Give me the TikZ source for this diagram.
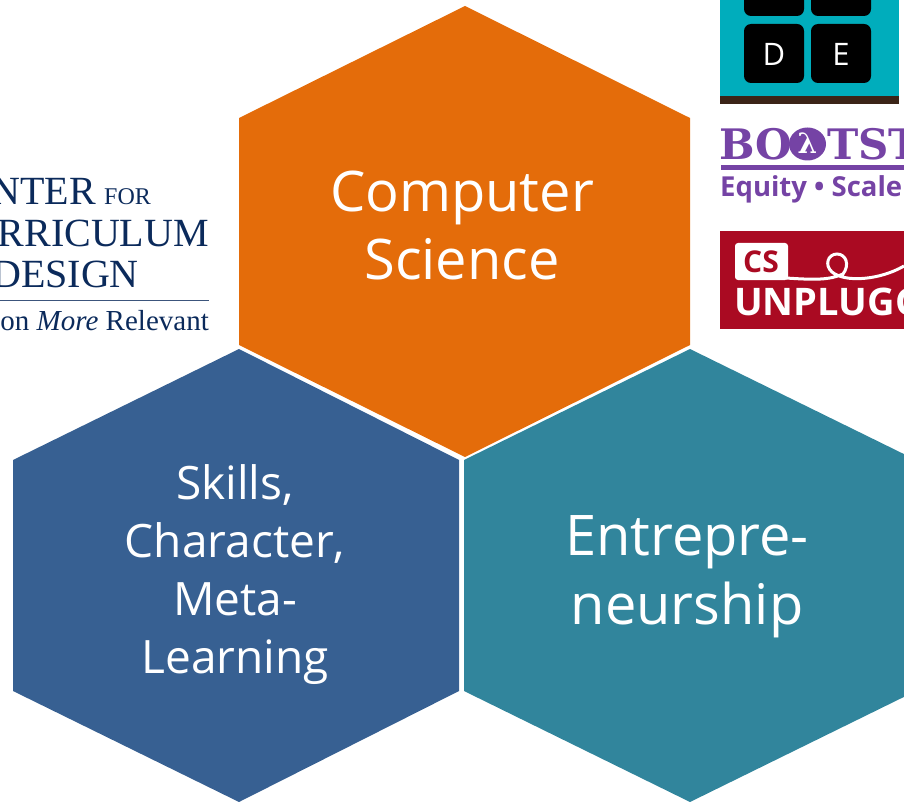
\documentclass[tikz,border=0pt]{standalone}
\usepackage{fontspec}
\setmainfont{Open Sans}
\newfontfamily\seriflogo{Liberation Serif}
\newfontfamily\slablogo{DejaVu Serif}
\usepackage{tikz}
\usetikzlibrary{positioning}
\definecolor{hexorange}{HTML}{E46C0A}
\definecolor{hexblue}{HTML}{376092}
\definecolor{hexteal}{HTML}{31859C}
\definecolor{cdcnavy}{HTML}{0B2A5B}
\definecolor{bootpurple}{HTML}{7543A5}
\definecolor{codeteal}{HTML}{00ADBC}
\definecolor{codebrown}{HTML}{3B2417}
\definecolor{unplugred}{HTML}{AA0A22}

\begin{document}
\begin{tikzpicture}[x=1pt, y=-1pt,
				hextext/.style={text=white, align=center, inner sep=0pt},
				cdcline/.style={text=cdcnavy, anchor=base east, inner sep=0pt},
				bootline/.style={text=bootpurple, anchor=base west, inner sep=0pt},
				codekey/.style={fill=black, rounded corners=7pt},
				keyletter/.style={text=white, inner sep=0pt, font=\fontsize{31}{31}\selectfont}]
				\useasboundingbox (0, 0) rectangle (904, 802);
				\clip (0, 0) rectangle (904, 802);
				
				% hexagons
				\fill[hexorange] (465, 6) -- (690, 118) -- (690, 345) -- (465, 457) -- (239, 345) -- (239, 118) -- cycle;
				\fill[hexblue] (239, 349) -- (459, 460) -- (459, 691) -- (239, 802) -- (13, 691) -- (13, 460) -- cycle;
				\fill[hexteal] (690, 349) -- (916, 460) -- (916, 691) -- (690, 802) -- (464, 691) -- (464, 460) -- cycle;
				
				\node[hextext, font=\fontsize{56}{68}\selectfont](nodeCS) at (462, 225) {Computer\\Science};
				\node[hextext, font=\fontsize{46}{58}\selectfont](nodeSkills) at (235, 575) {Skills,\\Character,\\Meta-\\Learning};
				\node[hextext, font=\fontsize{56}{69}\selectfont](nodeEntre) at (687, 577) {Entrepre-\\neurship};
				
				% left logo
				\node[cdcline, font=\seriflogo\fontsize{40}{40}\selectfont](cdc1) at (96, 205) {NTER};
				\node[cdcline, font=\seriflogo\fontsize{24}{24}\selectfont, right=8pt of cdc1.base east, anchor=base west](cdc1b) {FOR};
				\node[cdcline, font=\seriflogo\fontsize{40}{40}\selectfont](cdc2) at (209, 247) {RRICULUM};
				\node[cdcline, font=\seriflogo\fontsize{40}{40}\selectfont](cdc3) at (139, 287) {DESIGN};
				\draw[cdcnavy!80, line width=0.8pt] (0, 300) -- (209, 300);
				\node[cdcline, font=\seriflogo\fontsize{29}{29}\selectfont](cdc4) at (209, 330) {on \textit{More} Relevant};
				
				% code logo
				\fill[codeteal] (720, 0) rectangle (899, 96);
				\fill[codebrown] (720, 96) rectangle (899, 104);
				\fill[codekey] (744, -40) rectangle (804, 16);
				\fill[codekey] (811, -40) rectangle (871, 16);
				\fill[codekey] (744, 24) rectangle (804, 83);
				\fill[codekey] (811, 24) rectangle (871, 83);
				\node[keyletter](keyD) at (774, 54) {D};
				\node[keyletter](keyE) at (841, 54) {E};
				
				% bootstrap logo
				\node[bootline, font=\slablogo\bfseries\fontsize{42}{42}\selectfont](bootA) at (719, 160) {BO};
				\fill[bootpurple] (807.5, 144) ellipse (18.5 and 16.5);
				\node[text=white, inner sep=0pt, font=\slablogo\bfseries\fontsize{28}{28}\selectfont](lambda) at (807.5, 143) {λ};
				\node[bootline, font=\slablogo\bfseries\fontsize{42}{42}\selectfont](bootC) at (827, 160) {TST};
				\fill[bootpurple] (721, 165) rectangle (904, 170);
				\node[bootline, font=\bfseries\fontsize{27.5}{27.5}\selectfont](bootD) at (720, 197) {Equity • Scale};
				
				% unplugged logo
				\fill[unplugred] (720, 231) rectangle (904, 329);
				\fill[white, rounded corners=3pt] (735, 243) rectangle (788, 280);
				\node[text=unplugred, inner sep=0pt, font=\bfseries\fontsize{30}{30}\selectfont](csbox) at (761, 262) {CS};
				\draw[white, line width=3pt] (786, 278) .. controls (815, 280) and (830, 280) .. (843, 274) .. controls (850, 265) and (846, 254) .. (837, 254) .. controls (828, 254) and (824, 265) .. (832, 272) .. controls (845, 283) and (880, 280) .. (904, 266);
				\node[text=white, anchor=base west, inner sep=0pt, font=\bfseries\fontsize{38}{38}\selectfont](unplug) at (734, 315) {UNPLUGG};
				
			\end{tikzpicture}
\end{document}
